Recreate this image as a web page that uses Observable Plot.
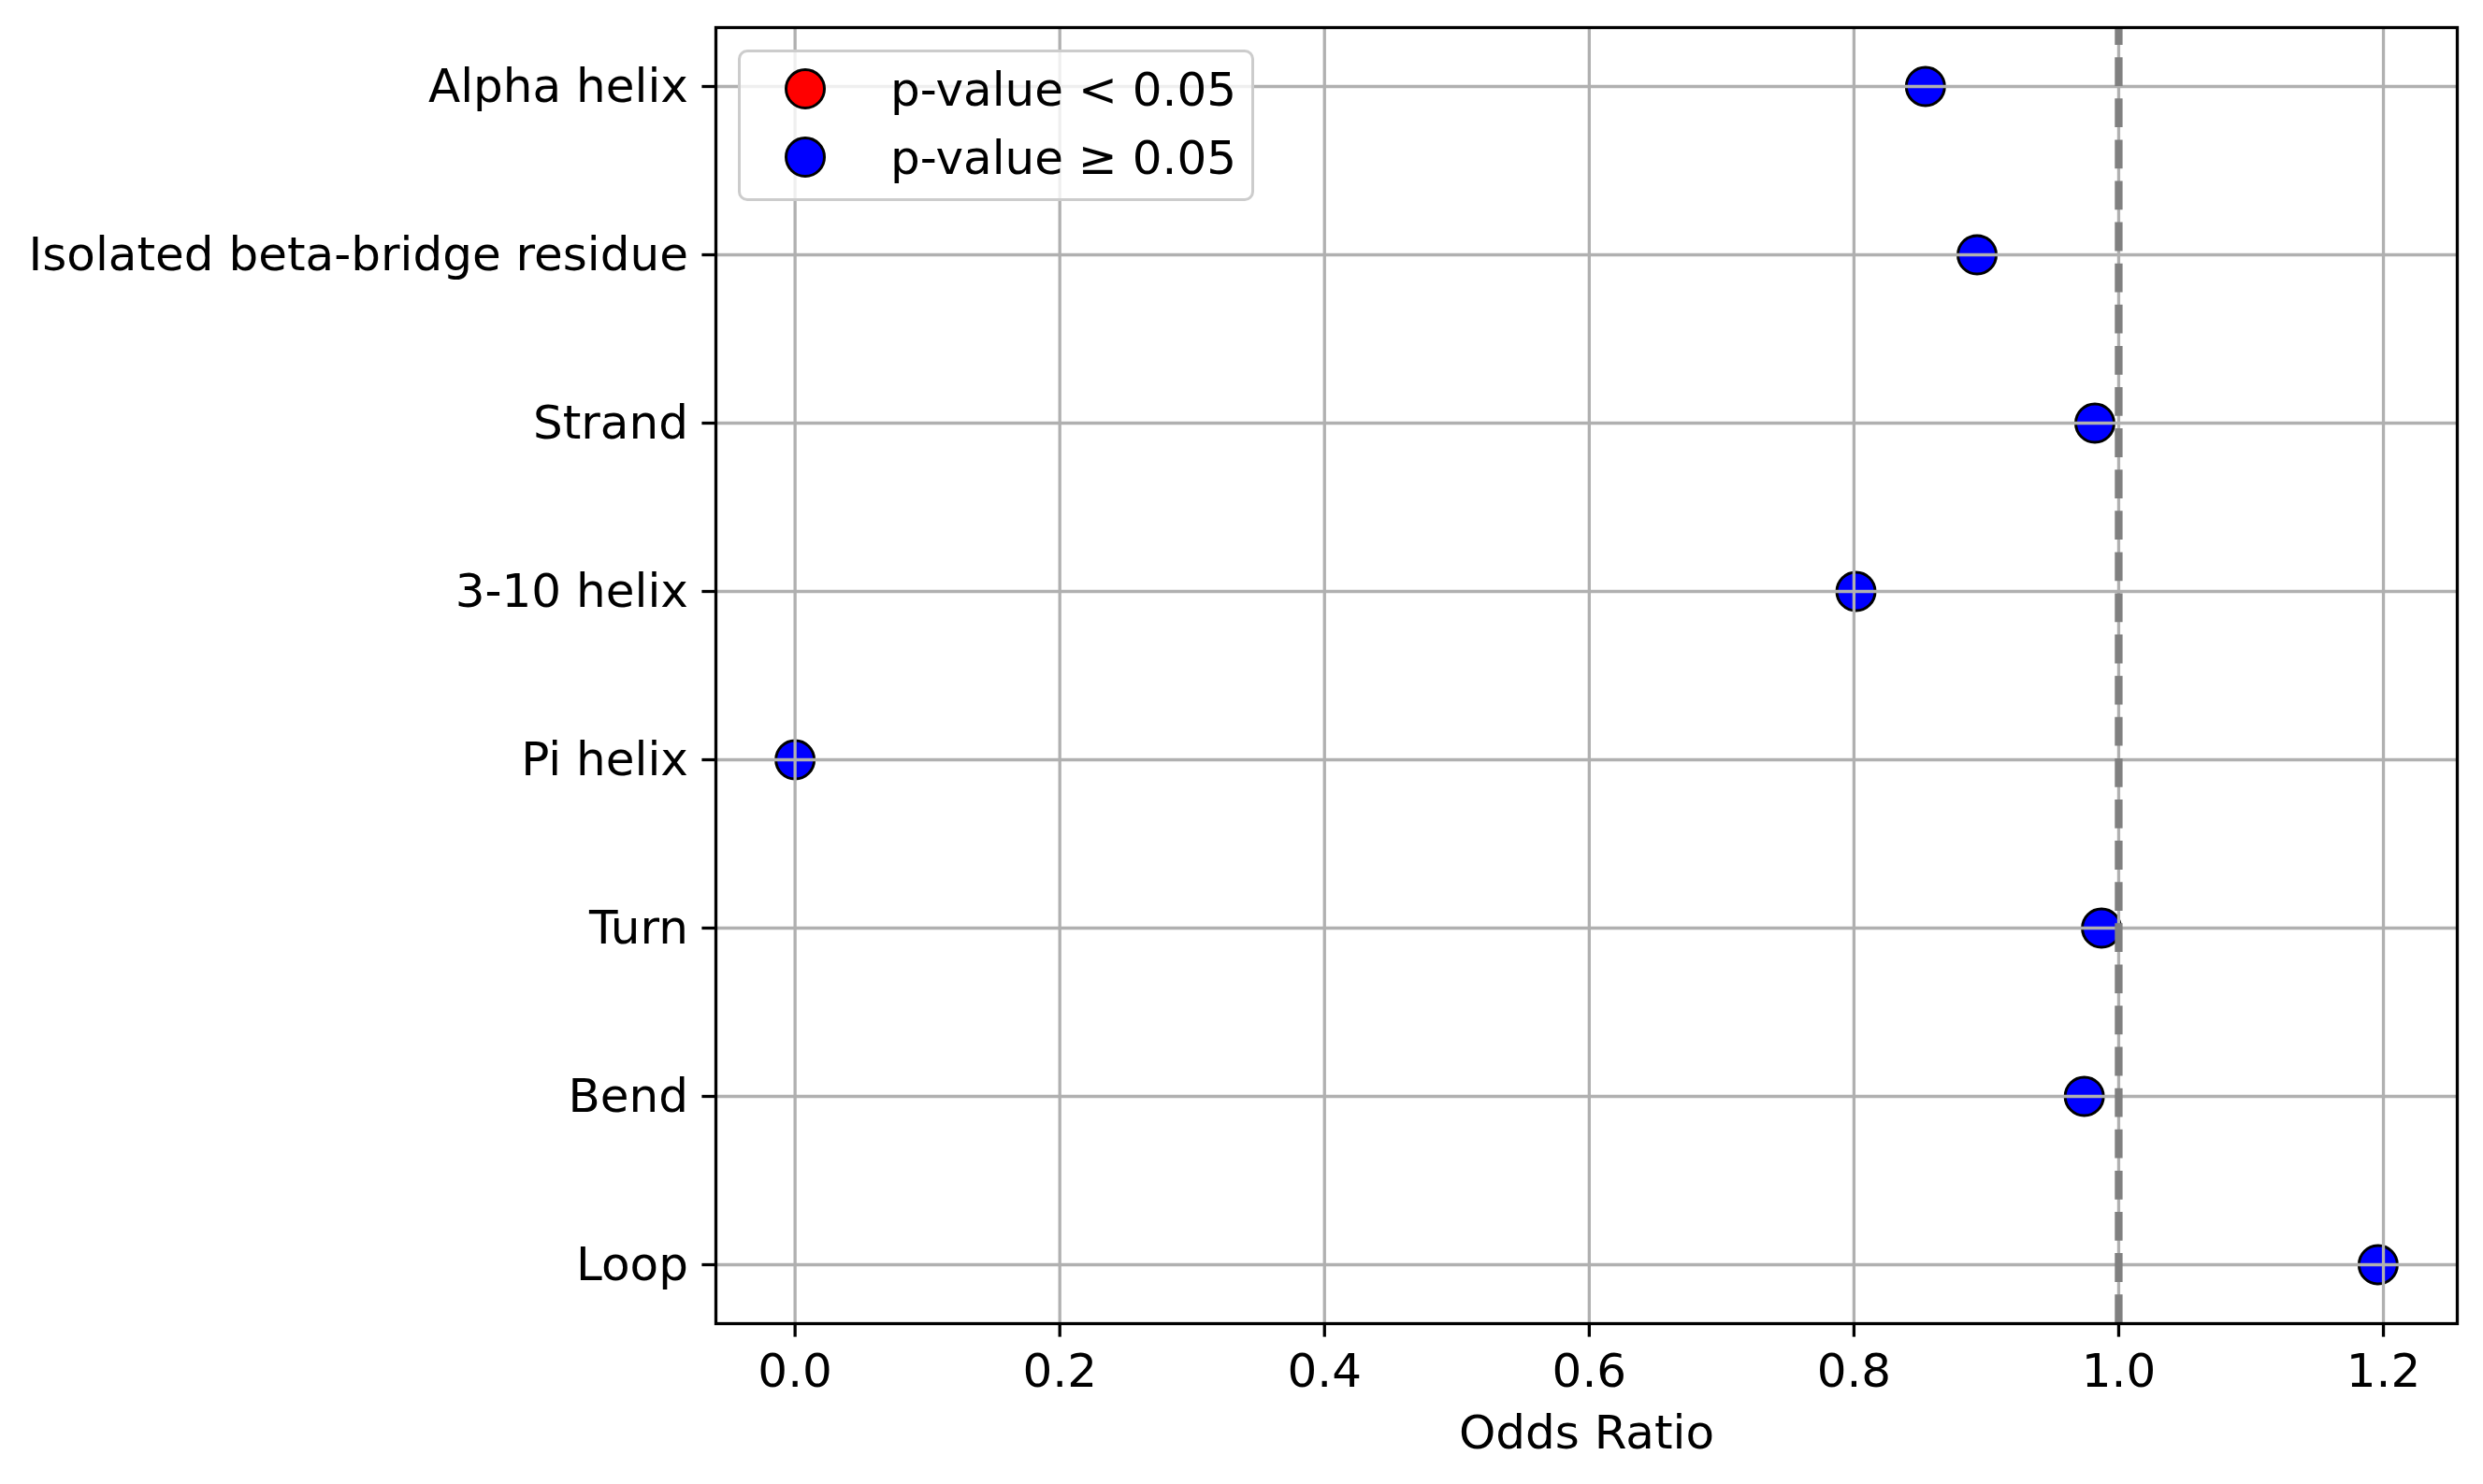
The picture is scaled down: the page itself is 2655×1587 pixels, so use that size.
<!DOCTYPE html>
<html>
<head>
<meta charset="utf-8">
<script src="https://cdn.jsdelivr.net/npm/d3@7"></script>
<script src="https://cdn.jsdelivr.net/npm/@observablehq/plot@0.6"></script>
<style>
  html, body { margin: 0; padding: 0; background: white; }
  #wrap { position: relative; width: 2655px; height: 1587px; font-family: "DejaVu Sans", sans-serif; }
  #legend { position: absolute; box-sizing: border-box; background: rgba(255,255,255,0.8);
            border: 3.3px solid #cccccc; border-radius: 10px; }
</style>
</head>
<body>
<div id="wrap"></div>
<script>
// ---- data ----
const categories = ["Alpha helix", "Isolated beta-bridge residue", "Strand", "3-10 helix", "Pi helix", "Turn", "Bend", "Loop"];
const oddsRatios = [0.854, 0.893, 0.982, 0.8015, 0.0, 0.987, 0.974, 1.196];
const significant = [false, false, false, false, false, false, false, false];
const xTicks = [0.0, 0.2, 0.4, 0.6, 0.8, 1.0, 1.2];
const legendLabels = ["p-value < 0.05", "p-value \u2265 0.05"];
const legendColors = ["#ff0000", "#0000ff"];
const referenceLine = [1.0];

const data = categories.map((c, i) => ({category: c, or: oddsRatios[i], sig: significant[i]}));

const W = 2655, H = 1587;
const mL = 765, mR = 28, mT = 29, mB = 172;
const lw = 3.3;

const chart = Plot.plot({
  width: W,
  height: H,
  marginLeft: mL,
  marginRight: mR,
  marginTop: mT,
  marginBottom: mB,
  style: {fontFamily: "DejaVu Sans", fontSize: "50px", background: "white", color: "black"},
  x: {domain: [-0.0598, 1.2558], ticks: xTicks, tickFormat: d3.format(".1f"), label: null},
  y: {type: "point", domain: categories, padding: 0.35, label: null},
  marks: [
    Plot.dot(data, {x: "or", y: "category", r: 20.5,
      fill: d => d.sig ? legendColors[0] : legendColors[1],
      stroke: "black", strokeWidth: 3}),
    Plot.gridX(xTicks, {stroke: "#b0b0b0", strokeOpacity: 1, strokeWidth: lw}),
    Plot.gridY(categories, {stroke: "#b0b0b0", strokeOpacity: 1, strokeWidth: lw}),
    Plot.ruleX(referenceLine, {stroke: "#808080", strokeWidth: 8.3, strokeDasharray: "30.8,13.3", strokeDashoffset: 11.9}),
    Plot.frame({stroke: "black", strokeWidth: lw}),
    Plot.axisX(xTicks, {tickSize: 14.6, tickPadding: 17, strokeWidth: lw, tickFormat: d3.format(".1f"),
      label: "Odds Ratio", labelAnchor: "center", labelOffset: 133, labelArrow: "none"}),
    Plot.axisY(categories, {tickSize: 14.6, tickPadding: 15, strokeWidth: lw, label: null})
  ]
});

const wrap = document.getElementById("wrap");
wrap.appendChild(chart);

// legend (inside plot, upper left)
const lg = document.createElement("div");
lg.id = "legend";
const lx = 789, ly = 53, lwid = 552, lh = 162;
lg.style.left = lx + "px";
lg.style.top = ly + "px";
lg.style.width = lwid + "px";
lg.style.height = lh + "px";
const ns = "http://www.w3.org/2000/svg";
const svg = document.createElementNS(ns, "svg");
svg.setAttribute("width", lwid);
svg.setAttribute("height", lh);
svg.style.position = "absolute";
svg.style.left = "-3.3px";
svg.style.top = "-3.3px";
svg.style.overflow = "visible";
legendLabels.forEach((lab, i) => {
  const cy = 95 - ly + i * 73;
  const c = document.createElementNS(ns, "circle");
  c.setAttribute("cx", 861 - lx);
  c.setAttribute("cy", cy);
  c.setAttribute("r", 20.5);
  c.setAttribute("fill", legendColors[i]);
  c.setAttribute("stroke", "black");
  c.setAttribute("stroke-width", 3);
  svg.appendChild(c);
  const t = document.createElementNS(ns, "text");
  t.setAttribute("x", 952 - lx);
  t.setAttribute("y", cy + 18);
  t.setAttribute("font-family", "DejaVu Sans");
  t.setAttribute("font-size", "50px");
  t.setAttribute("fill", "black");
  t.textContent = lab;
  svg.appendChild(t);
});
lg.appendChild(svg);
wrap.appendChild(lg);
</script>
</body>
</html>
